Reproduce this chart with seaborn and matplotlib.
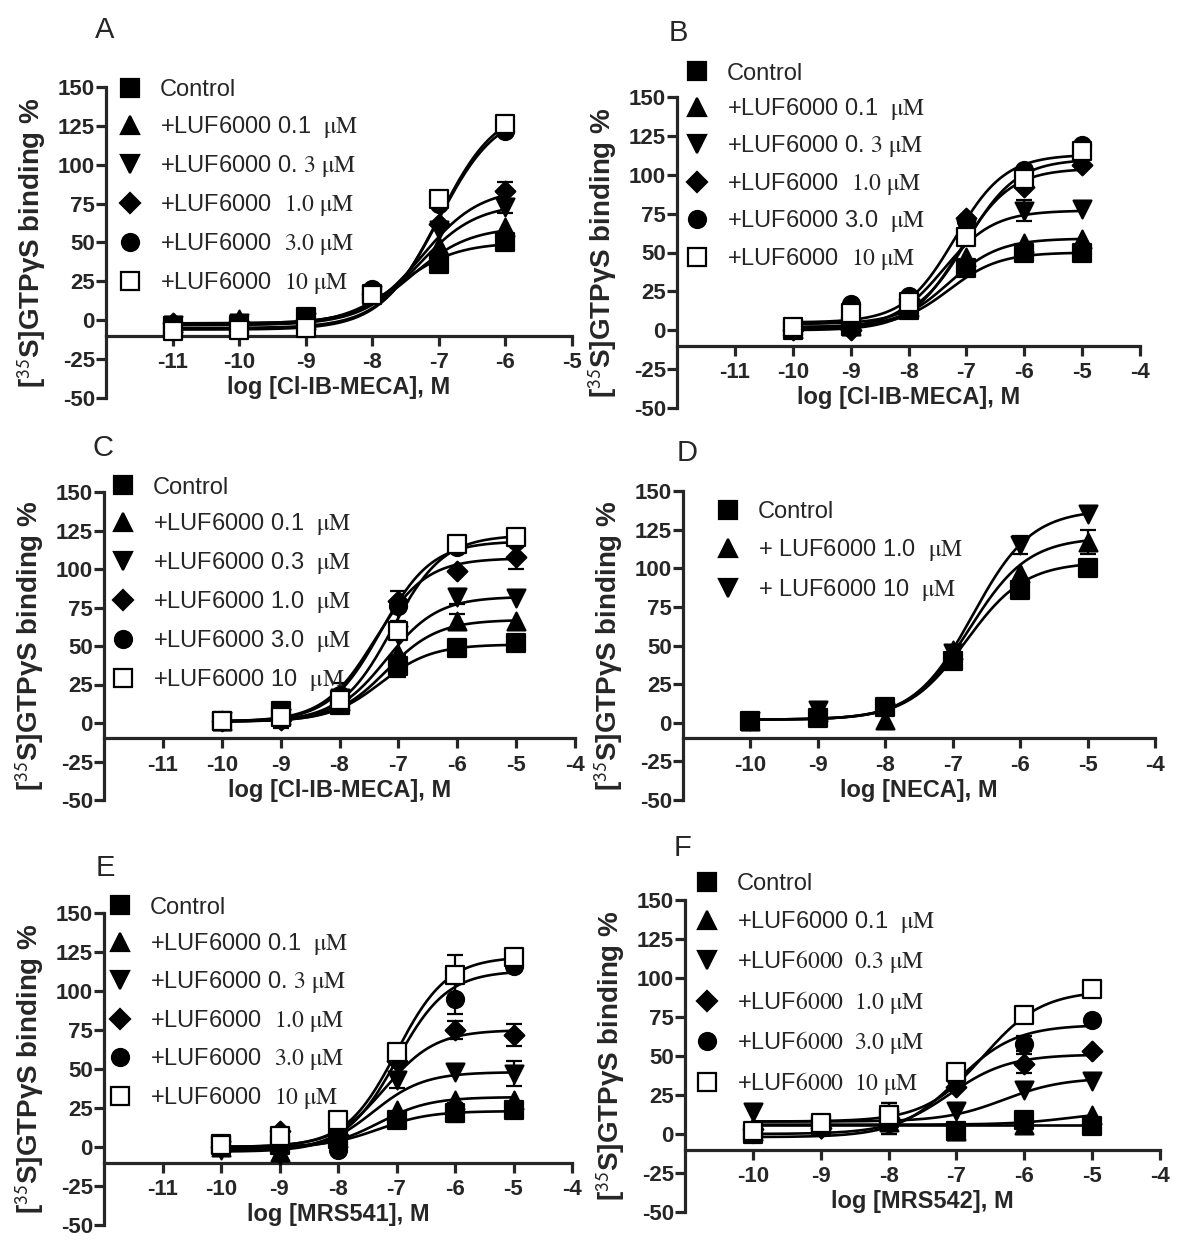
import numpy as np
import pandas as pd

import matplotlib

matplotlib.use("Agg")
import matplotlib.pyplot as plt  # noqa: E402
from matplotlib.lines import Line2D  # noqa: E402

import seaborn as sns  # noqa: E402

# ---------------- data ----------------
# Panel A: Cl-IB-MECA
a_x = [-11, -10, -9, -8, -7, -6]
a_labels = [
    "Control",
    r"+LUF6000 0.1  $\mathrm{\mu M}$",
    r"+LUF6000 0. $\mathrm{3\ \mu M}$",
    r"+LUF6000  $\mathrm{1.0\ \mu M}$",
    r"+LUF6000  $\mathrm{3.0\ \mu M}$",
    r"+LUF6000  $\mathrm{10\ \mu M}$",
]
a_y = [
    [-4, -3, 2, 17, 36, 50],
    [-2, 1, 0, 18, 48, 60],
    [-3, -2, -1, 16, 58, 73],
    [-2, -1, 0, 17, 62, 83],
    [-5, -4, -2, 20, 75, 122],
    [-7, -6, -5, 16, 78, 126],
]
a_err = [
    [0, 0, 0, 0, 0, 0],
    [0, 0, 0, 0, 0, 0],
    [0, 0, 0, 0, 0, 4],
    [0, 0, 0, 0, 0, 6],
    [0, 0, 0, 0, 0, 0],
    [0, 0, 0, 0, 0, 0],
]
a_bottom = [-3, -2, -3, -2, -5, -6]
a_top = [50, 60, 75, 85, 135, 138]
a_logec50 = [-7.6, -7.4, -7.3, -7.25, -7.0, -7.0]

# Panel B: Cl-IB-MECA
b_x = [-10, -9, -8, -7, -6, -5]
b_labels = [
    "Control",
    r"+LUF6000 0.1  $\mathrm{\mu M}$",
    r"+LUF6000 0. $\mathrm{3\ \mu M}$",
    r"+LUF6000  $\mathrm{1.0\ \mu M}$",
    r"+LUF6000 3.0  $\mathrm{\mu M}$",
    r"+LUF6000  $\mathrm{10\ \mu M}$",
]
b_y = [
    [0, 3, 13, 40, 50, 50],
    [1, 3, 15, 47, 56, 59],
    [0, 2, 17, 65, 77, 78],
    [0, 0, 20, 72, 92, 106],
    [1, 17, 22, 70, 103, 119],
    [2, 11, 18, 60, 97, 115],
]
b_err = [
    [0, 0, 0, 0, 0, 0],
    [0, 0, 0, 0, 0, 0],
    [0, 0, 0, 0, 7, 0],
    [0, 0, 0, 0, 0, 0],
    [0, 0, 0, 0, 0, 0],
    [0, 0, 0, 0, 0, 0],
]
b_bottom = [2, 2, 1, 0, 5, 4]
b_top = [50, 59, 77, 104, 113, 110]
b_logec50 = [-7.3, -7.3, -7.4, -7.1, -7.2, -7.0]

# Panel C: Cl-IB-MECA
c_x = [-10, -9, -8, -7, -6, -5]
c_labels = [
    "Control",
    r"+LUF6000 0.1  $\mathrm{\mu M}$",
    r"+LUF6000 0.3  $\mathrm{\mu M}$",
    r"+LUF6000 1.0  $\mathrm{\mu M}$",
    r"+LUF6000 3.0  $\mathrm{\mu M}$",
    r"+LUF6000 10  $\mathrm{\mu M}$",
]
c_y = [
    [1, 8, 12, 37, 49, 52],
    [1, 5, 14, 45, 66, 66],
    [1, 3, 16, 57, 82, 81],
    [1, 2, 17, 79, 99, 108],
    [1, 3, 18, 76, 114, 118],
    [1, 4, 15, 60, 116, 121],
]
c_err = [
    [0, 0, 0, 7, 0, 0],
    [0, 0, 0, 0, 5, 0],
    [0, 0, 0, 0, 5, 0],
    [0, 0, 0, 0, 0, 8],
    [0, 6, 8, 10, 0, 0],
    [0, 0, 0, 0, 0, 0],
]
c_bottom = [1, 1, 1, 1, 1, 1]
c_top = [51, 67, 82, 107, 118, 122]
c_logec50 = [-7.3, -7.2, -7.2, -7.4, -7.3, -7.1]

# Panel D: NECA
d_x = [-10, -9, -8, -7, -6, -5]
d_labels = [
    "Control",
    r"+ LUF6000 1.0  $\mathrm{\mu M}$",
    r"+ LUF6000 10  $\mathrm{\mu M}$",
]
d_y = [
    [1, 3, 10, 40, 86, 100],
    [1, 7, 2, 47, 97, 117],
    [1, 8, 7, 45, 115, 135],
]
d_err = [
    [0, 0, 0, 0, 5, 0],
    [0, 0, 0, 0, 0, 8],
    [0, 0, 0, 0, 6, 0],
]
d_bottom = [2, 2, 2]
d_top = [104, 120, 138]
d_logec50 = [-6.8, -6.75, -6.7]

# Panel E: MRS541
e_x = [-10, -9, -8, -7, -6, -5]
e_labels = a_labels
e_y = [
    [2, 1, 5, 17, 22, 24],
    [0, -3, 6, 24, 30, 30],
    [-2, -5, 5, 43, 48, 47],
    [0, 10, 8, 55, 75, 72],
    [0, 0, -2, 58, 95, 116],
    [1, 7, 17, 61, 110, 122],
]
e_err = [
    [0, 0, 0, 0, 6, 0],
    [0, 0, 0, 0, 0, 0],
    [0, 0, 0, 5, 0, 8],
    [0, 0, 0, 0, 6, 7],
    [0, 0, 0, 0, 10, 0],
    [0, 0, 0, 0, 13, 0],
]
e_bottom = [0, -1, -3, 0, -2, 0]
e_top = [23, 32, 48, 75, 113, 122]
e_logec50 = [-7.3, -7.3, -7.4, -7.2, -7.0, -7.0]

# Panel F: MRS542
f_x = [-10, -9, -8, -7, -6, -5]
f_labels = [
    "Control",
    r"+LUF6000 0.1  $\mathrm{\mu M}$",
    r"+LUF$\mathrm{6000\ \ 0.3\ \mu M}$",
    r"+LUF$\mathrm{6000\ \ 1.0\ \mu M}$",
    r"+LUF$\mathrm{6000\ \ 3.0\ \mu M}$",
    r"+LUF$\mathrm{6000\ \ 10\ \mu M}$",
]
f_y = [
    [0, 6, 10, 2, 9, 5],
    [2, 5, 8, 2, 6, 12],
    [14, 3, 9, 15, 28, 34],
    [3, 4, 10, 30, 45, 53],
    [0, 5, 7, 35, 58, 73],
    [2, 7, 12, 40, 76, 93],
]
f_err = [
    [0, 0, 10, 0, 0, 0],
    [0, 0, 0, 0, 0, 0],
    [0, 0, 0, 0, 0, 0],
    [0, 0, 10, 0, 6, 0],
    [0, 0, 0, 0, 5, 0],
    [0, 0, 0, 0, 0, 0],
]
f_bottom = [6, 6, 8, 0, -2, 8]
f_top = [6, 15, 36, 51, 70, 92]
f_logec50 = [-7.0, -5.3, -6.3, -7.1, -7.0, -6.6]

six_markers = ["s", "^", "v", "D", "o", "s"]
six_faces = ["black", "black", "black", "black", "black", "white"]
marker_size = {"s": 150, "^": 165, "v": 165, "D": 100, "o": 150}

W, H = 1200, 1253
YLABEL = r"[$^{\mathsf{35}}$S]GTPγS binding %"
LEG_FS = 17


def hill(x, bottom, top, logec50):
    return bottom + (top - bottom) / (1 + 10 ** (logec50 - x))


def px_rect(left, right, top, bottom):
    return [left / W, 1 - bottom / H, (right - left) / W, (bottom - top) / H]


def draw_panel(fig, rect, x, labels, ys, errs, bottoms, tops, ec50s, markers, faces,
               xlim, xticks, xlabel, letter, letter_xy, leg_xy, leg_step):
    ax = fig.add_axes(rect)
    for i in range(len(labels)):
        xs = np.linspace(min(x), max(x), 200)
        curve = pd.DataFrame({"x": xs, "y": hill(xs, bottoms[i], tops[i], ec50s[i])})
        sns.lineplot(data=curve, x="x", y="y", color="black", linewidth=1.9, ax=ax, zorder=2)
        for xv, yv, ev in zip(x, ys[i], errs[i]):
            if ev > 0:
                ax.errorbar([xv], [yv], yerr=[ev], fmt="none", ecolor="black",
                            elinewidth=1.6, capsize=6, capthick=1.6, zorder=2.5)
        sns.scatterplot(x=x, y=ys[i], marker=markers[i], s=marker_size[markers[i]],
                        color=faces[i], edgecolor="black", linewidth=1.6,
                        ax=ax, zorder=3, legend=False)

    ax.set_xlim(*xlim)
    ax.set_ylim(-50, 150)
    ax.set_yticks(range(-50, 151, 25))
    ax.set_xticks(xticks)
    sns.despine(ax=ax)
    ax.spines["bottom"].set_position(("data", -10))
    for side in ["left", "bottom"]:
        ax.spines[side].set_linewidth(2.3)
    ax.tick_params(axis="both", direction="out", length=7, width=2.3, labelsize=16)
    ax.tick_params(axis="y", pad=1)
    ax.tick_params(axis="x", pad=5)
    for lab in ax.get_xticklabels() + ax.get_yticklabels():
        lab.set_fontweight("bold")
    ax.set_xlabel(xlabel, fontsize=17, fontweight="bold", labelpad=2)
    ax.set_ylabel(YLABEL, fontsize=20, fontweight="bold", labelpad=7)

    fig.text(letter_xy[0] / W, 1 - letter_xy[1] / H, letter, fontsize=21,
             ha="center", va="center")

    handles = [
        Line2D([], [], marker=markers[i], linestyle="none", color="black",
               markerfacecolor=faces[i], markeredgecolor="black", markeredgewidth=1.6,
               markersize=np.sqrt(marker_size[markers[i]]))
        for i in range(len(labels))
    ]
    fs_px = LEG_FS * 100 / 72
    leg = fig.legend(handles, labels, loc="upper left",
                     bbox_to_anchor=((leg_xy[0] - 0.5 * fs_px) / W,
                                     1 - (leg_xy[1] - 8.5) / H),
                     frameon=False, fontsize=LEG_FS, handlelength=1.0,
                     handletextpad=0.78, borderpad=0, borderaxespad=0,
                     labelspacing=(leg_step - 1.06 * fs_px) / fs_px)
    return ax, leg


sns.set_style("ticks")
plt.rcParams["font.family"] = ["Liberation Sans", "DejaVu Sans"]
plt.rcParams["mathtext.fontset"] = "stix"
plt.rcParams["axes.unicode_minus"] = False

fig = plt.figure(figsize=(12, 12.53), dpi=100)
fig.patch.set_facecolor("white")

draw_panel(fig, px_rect(106, 572, 87, 398), a_x, a_labels, a_y, a_err,
           a_bottom, a_top, a_logec50, six_markers, six_faces,
           (-12, -5), range(-11, -4), "log [Cl-IB-MECA], M",
           "A", (105, 30), (130, 88), 38)
draw_panel(fig, px_rect(677, 1140, 97, 408), b_x, b_labels, b_y, b_err,
           b_bottom, b_top, b_logec50, six_markers, six_faces,
           (-12, -4), range(-11, -3), "log [Cl-IB-MECA], M",
           "B", (678, 33), (697, 71), 36.5)
draw_panel(fig, px_rect(104, 575, 492, 800), c_x, c_labels, c_y, c_err,
           c_bottom, c_top, c_logec50, six_markers, six_faces,
           (-12, -4), range(-11, -3), "log [Cl-IB-MECA], M",
           "C", (103, 448), (123, 485), 38)
draw_panel(fig, px_rect(683, 1155, 491, 800), d_x, d_labels, d_y, d_err,
           d_bottom, d_top, d_logec50, ["s", "^", "v"], ["black"] * 3,
           (-11, -4), range(-10, -3), "log [NECA], M",
           "D", (687, 453), (728, 510), 39)
draw_panel(fig, px_rect(104, 572, 913, 1225), e_x, e_labels, e_y, e_err,
           e_bottom, e_top, e_logec50, six_markers, six_faces,
           (-12, -4), range(-11, -3), "log [MRS541], M",
           "E", (105, 868), (120, 905), 37.5)
draw_panel(fig, px_rect(685, 1160, 900, 1212), f_x, f_labels, f_y, f_err,
           f_bottom, f_top, f_logec50, six_markers, six_faces,
           (-11, -4), range(-10, -3), "log [MRS542], M",
           "F", (682, 848), (707, 882), 38.5)

fig.savefig("out.png", dpi=100)
